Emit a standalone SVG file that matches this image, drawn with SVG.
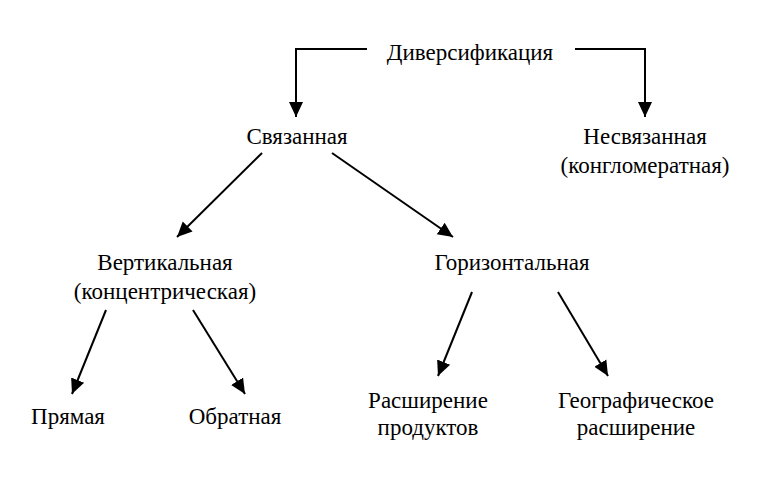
<svg xmlns="http://www.w3.org/2000/svg" width="768" height="477" viewBox="0 0 768 477">
<style>
text{font-family:"Liberation Serif","DejaVu Serif",serif;font-size:23px;fill:#000;text-anchor:middle}
.c{stroke:#000;stroke-width:2;fill:none}
</style>
<defs>
<marker id="a" markerUnits="userSpaceOnUse" markerWidth="16" markerHeight="16" viewBox="0 0 16 16" refX="15" refY="8" orient="auto">
<path d="M0,1 L15,8 L0,15 Z" fill="#000"/>
</marker>
</defs>
<rect width="768" height="477" fill="#fff"/>
<g id="connectors">
<polyline class="c" points="367,49 296,49 296,117" marker-end="url(#a)"/>
<polyline class="c" points="575,49 645,49 645,117" marker-end="url(#a)"/>
<line class="c" x1="262" y1="153" x2="177" y2="237" marker-end="url(#a)"/>
<line class="c" x1="332" y1="153" x2="453" y2="237" marker-end="url(#a)"/>
<line class="c" x1="106" y1="310" x2="72" y2="394" marker-end="url(#a)"/>
<line class="c" x1="193" y1="310" x2="245" y2="394" marker-end="url(#a)"/>
<line class="c" x1="472" y1="292" x2="438" y2="376" marker-end="url(#a)"/>
<line class="c" x1="558" y1="292" x2="608" y2="376" marker-end="url(#a)"/>
</g>
<g id="n-div"><text x="470" y="60">Диверсификация</text></g>
<g id="n-sv"><text x="297" y="144">Связанная</text></g>
<g id="n-nesv"><text x="645" y="144">Несвязанная</text><text x="645" y="173">(конгломератная)</text></g>
<g id="n-vert"><text x="165" y="270">Вертикальная</text><text x="165" y="299">(концентрическая)</text></g>
<g id="n-gor"><text x="512" y="270">Горизонтальная</text></g>
<g id="n-pr"><text x="68" y="424">Прямая</text></g>
<g id="n-obr"><text x="235" y="424">Обратная</text></g>
<g id="n-rp"><text x="428" y="408">Расширение</text><text x="428" y="435">продуктов</text></g>
<g id="n-geo"><text x="636" y="408">Географическое</text><text x="636" y="435">расширение</text></g>
</svg>
